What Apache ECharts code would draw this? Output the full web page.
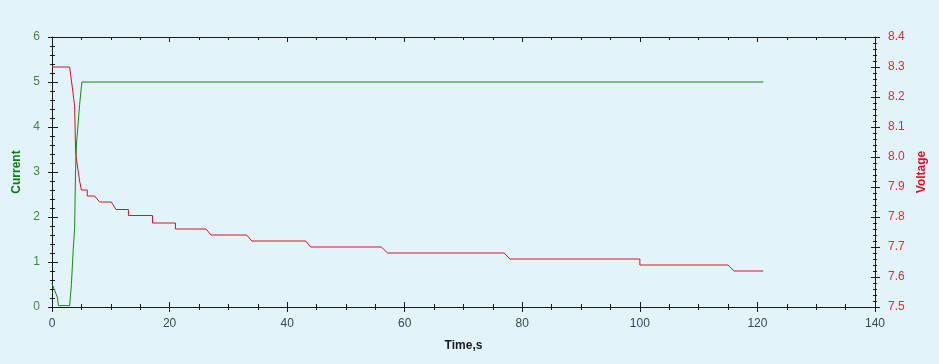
<!DOCTYPE html>
<html>
<head>
<meta charset="utf-8">
<script src="https://cdn.jsdelivr.net/npm/echarts@6/dist/echarts.min.js"></script>
<style>
html,body{margin:0;padding:0;background:#e2f3fa;}
#c{width:939px;height:364px;}
</style>
</head>
<body>
<div id="c"></div>
<script>
// Current (A) vs time (s)
const currentTime = [0, 0.9, 1.1, 3.0, 3.3, 3.6, 3.85, 4.0, 4.15, 4.7, 5.0, 5.1, 121];
const currentVals = [0.52, 0.22, 0.03, 0.03, 0.5, 1.25, 1.75, 3.0, 3.6, 4.5, 4.9, 5.0, 5.0];
// Voltage (V) vs time (s)
const voltageTime = [0, 3.0, 3.4, 3.85, 4.0, 4.1, 4.4, 4.7, 5.0, 6.0, 6.0, 7.25, 8.1, 10.1, 10.9, 13.0, 13.0, 17.1, 17.1, 21.0, 21.0, 26.2, 27.05, 33.1, 34.0, 43.15, 44.0, 56.0, 57.1, 76.9, 77.9, 100.0, 100.0, 115.0, 116.0, 121];
const voltageVals = [8.30, 8.30, 8.24, 8.17, 8.03, 8.0, 7.96, 7.92, 7.89, 7.89, 7.87, 7.87, 7.85, 7.85, 7.825, 7.825, 7.805, 7.805, 7.78, 7.78, 7.76, 7.76, 7.74, 7.74, 7.72, 7.72, 7.70, 7.70, 7.68, 7.68, 7.66, 7.66, 7.64, 7.64, 7.62, 7.62];

const xTicks = {min: 0, max: 140, interval: 20};
const currentTicks = {min: 0, max: 6, interval: 1};
const voltageTicks = {min: 7.5, max: 8.4, interval: 0.1};

const FONT = '"Liberation Sans", Arial, sans-serif';
const AX = '#1a1a1a';
const green = '#138a13';
const red = '#e0101e';

function ticksOnly(base, pos, extra) {
  return Object.assign({
    type: 'value', position: pos, min: base.min, max: base.max, interval: base.interval,
    axisLine: {show: false, onZero: false},
    axisTick: {show: true, inside: true, length: 5, lineStyle: {color: AX}},
    minorTick: {show: true, length: 3, lineStyle: {color: AX}},
    axisLabel: {show: false}, splitLine: {show: false}, minorSplitLine: {show: false}
  }, extra || {});
}

const chart = echarts.init(document.getElementById('c'), null, {renderer: 'canvas'});
chart.setOption({
  backgroundColor: '#e2f3fa',
  animation: false,
  grid: {left: 52, right: 64, top: 37, bottom: 57, containLabel: false},
  xAxis: [
    {
      type: 'value', position: 'bottom', min: xTicks.min, max: xTicks.max, interval: xTicks.interval,
      name: 'Time,s', nameLocation: 'middle', nameGap: 33,
      nameTextStyle: {fontFamily: FONT, fontSize: 12, fontWeight: 'bold', color: '#1a1a2a'},
      axisLine: {show: true, onZero: false, lineStyle: {color: AX, width: 1}},
      axisTick: {show: true, inside: false, length: 5, lineStyle: {color: AX}},
      minorTick: {show: true, splitNumber: 4, length: 3, lineStyle: {color: AX}},
      axisLabel: {fontFamily: FONT, fontSize: 12, color: '#3a4656', margin: 11},
      splitLine: {show: false}
    },
    ticksOnly(xTicks, 'bottom', {minorTick: {show: true, splitNumber: 4, length: 3, lineStyle: {color: AX}}}),
    ticksOnly(xTicks, 'top', {axisLine: {show: true, onZero: false, lineStyle: {color: AX, width: 1}},
      minorTick: {show: true, splitNumber: 4, length: 3, lineStyle: {color: AX}}})
  ],
  yAxis: [
    {
      type: 'value', position: 'left', min: currentTicks.min, max: currentTicks.max, interval: currentTicks.interval,
      name: 'Current', nameLocation: 'middle', nameGap: 27, nameRotate: 90,
      nameTextStyle: {fontFamily: FONT, fontSize: 12, fontWeight: 'bold', color: '#0f7a0f'},
      axisLine: {show: true, onZero: false, lineStyle: {color: AX, width: 1}},
      axisTick: {show: true, inside: false, length: 4, lineStyle: {color: AX}},
      minorTick: {show: true, splitNumber: 5, length: 2, lineStyle: {color: AX}},
      axisLabel: {fontFamily: FONT, fontSize: 12, color: '#3f8a3f', margin: 12},
      splitLine: {show: false}
    },
    {
      type: 'value', position: 'right', min: voltageTicks.min, max: voltageTicks.max, interval: voltageTicks.interval,
      name: 'Voltage', nameLocation: 'middle', nameGap: 37, nameRotate: 90,
      nameTextStyle: {fontFamily: FONT, fontSize: 12, fontWeight: 'bold', color: '#e01020'},
      axisLine: {show: true, onZero: false, lineStyle: {color: AX, width: 1}},
      axisTick: {show: true, inside: false, length: 5, lineStyle: {color: AX}},
      minorTick: {show: true, splitNumber: 5, length: 2, lineStyle: {color: AX}},
      axisLabel: {fontFamily: FONT, fontSize: 12, color: '#e42a36', margin: 13,
        formatter: v => v.toFixed(1)},
      splitLine: {show: false}
    },
    ticksOnly(currentTicks, 'left', {axisTick: {show: true, inside: true, length: 6, lineStyle: {color: AX}},
      minorTick: {show: true, splitNumber: 5, length: 3, lineStyle: {color: AX}}}),
    ticksOnly(voltageTicks, 'right', {axisTick: {show: true, inside: true, length: 4, lineStyle: {color: AX}},
      minorTick: {show: true, splitNumber: 5, length: 2, lineStyle: {color: AX}}})
  ],
  series: [
    {
      name: 'Current', type: 'line', xAxisIndex: 0, yAxisIndex: 0, showSymbol: false, symbol: 'none',
      lineStyle: {color: green, width: 1}, itemStyle: {color: green},
      data: currentTime.map((t, i) => [t, currentVals[i]])
    },
    {
      name: 'Voltage', type: 'line', xAxisIndex: 0, yAxisIndex: 1, showSymbol: false, symbol: 'none',
      lineStyle: {color: red, width: 1}, itemStyle: {color: red},
      data: voltageTime.map((t, i) => [t, voltageVals[i]])
    }
  ]
});
</script>
</body>
</html>
